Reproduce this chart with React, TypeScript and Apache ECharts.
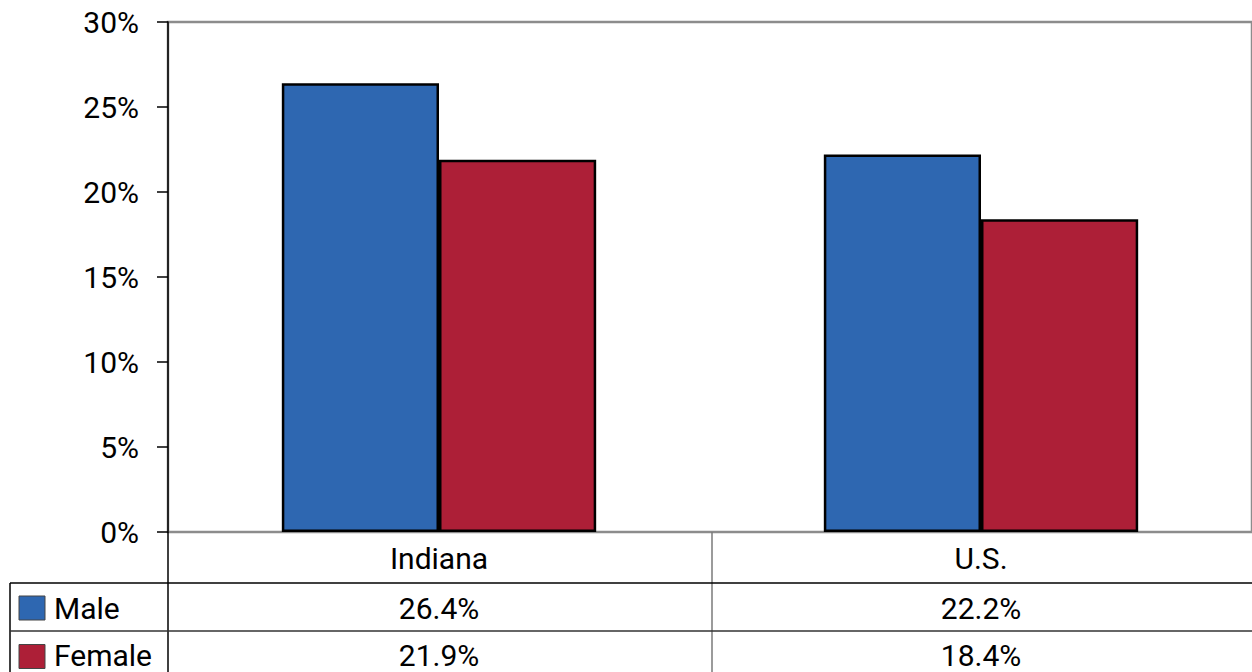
import React, { useEffect, useRef } from "react";
import * as echarts from "echarts";

const categories = ["Indiana", "U.S."];
const seriesNames = ["Male", "Female"];
const maleValues = [26.4, 22.2];
const femaleValues = [21.9, 18.4];
const colors = ["#2E67B1", "#AD1F37"];
const yTicks = { min: 0, max: 30, interval: 5 };

const FONT = "Roboto, 'Liberation Sans', Arial, sans-serif";
const FS = 30;

export default function App() {
  const ref = useRef<HTMLDivElement>(null);
  useEffect(() => {
    document.body.style.margin = "0";
    const chart = echarts.init(ref.current!, undefined, { renderer: "svg" });
    chart.setOption({
      animation: false,
      grid: {
        left: 168,
        top: 22,
        right: -5,
        bottom: 140,
        show: true,
        borderColor: "#8c8c8c",
        borderWidth: 2.5,
        backgroundColor: "#fff",
      },
      xAxis: {
        type: "category",
        data: categories,
        axisLine: { show: false },
        axisTick: { show: false },
        axisLabel: { show: false },
      },
      yAxis: {
        type: "value",
        min: yTicks.min,
        max: yTicks.max,
        interval: yTicks.interval,
        axisLine: { show: true, lineStyle: { color: "#000", width: 1.5 } },
        axisTick: { show: true, length: 11, lineStyle: { color: "#000", width: 1.5 } },
        splitLine: { show: false },
        axisLabel: {
          formatter: "{value}%",
          fontSize: FS,
          color: "#000",
          fontFamily: FONT,
          margin: 29,
        },
      },
      series: [
        {
          name: seriesNames[0],
          type: "bar",
          data: maleValues,
          barGap: "0%",
          barCategoryGap: "42%",
          itemStyle: { color: colors[0], borderColor: "#000", borderWidth: 2.5 },
        },
        {
          name: seriesNames[1],
          type: "bar",
          data: femaleValues,
          barGap: "0%",
          barCategoryGap: "42%",
          itemStyle: { color: colors[1], borderColor: "#000", borderWidth: 2.5 },
        },
      ],
    });

    const cx = categories.map((c) => chart.convertToPixel({ xAxisIndex: 0 }, c) as number);
    const W = 1252;
    const axisX = 168;
    const tableLeft = 10;
    const rowY = [532, 583, 631, 680];
    const mid = (cx[0] + cx[1]) / 2 + 2;
    const els: any[] = [];
    const line = (x1: number, y1: number, x2: number, y2: number, color = "#000", w = 1.5) =>
      els.push({ type: "line", shape: { x1, y1, x2, y2 }, style: { stroke: color, lineWidth: w }, silent: true });
    line(axisX, 532, axisX, 672);
    line(mid, 532, mid, 672, "#7a7a7a", 1.5);
    line(tableLeft, rowY[1], tableLeft, 672);
    line(tableLeft, rowY[1], W, rowY[1]);
    line(tableLeft, rowY[2], W, rowY[2], "#333", 1.5);
    const txt = (text: string, x: number, y: number, align = "center") =>
      els.push({
        type: "text",
        x,
        y,
        style: { text, fill: "#000", font: `${FS}px ${FONT}`, align, verticalAlign: "middle" },
        silent: true,
      });
    categories.forEach((c, i) => txt(c, cx[i], (rowY[0] + rowY[1]) / 2 + 1));
    const rows = [maleValues, femaleValues];
    rows.forEach((vals, r) => {
      const yc = (rowY[r + 1] + rowY[r + 2]) / 2 + 1;
      const ty = Math.min(yc, 655);
      els.push({
        type: "rect",
        shape: { x: 19, y: yc - 12, width: 26, height: 24 },
        style: { fill: colors[r], stroke: "#444", lineWidth: 1 },
        silent: true,
      });
      txt(seriesNames[r], 54, ty, "left");
      vals.forEach((v, i) => txt(v.toFixed(1) + "%", cx[i], ty));
    });
    chart.setOption({ graphic: { elements: els } });
    return () => chart.dispose();
  }, []);
  return (
    <div
      ref={ref}
      style={{ position: "fixed", left: 0, top: 0, width: 1252, height: 672, background: "#fff" }}
    />
  );
}
